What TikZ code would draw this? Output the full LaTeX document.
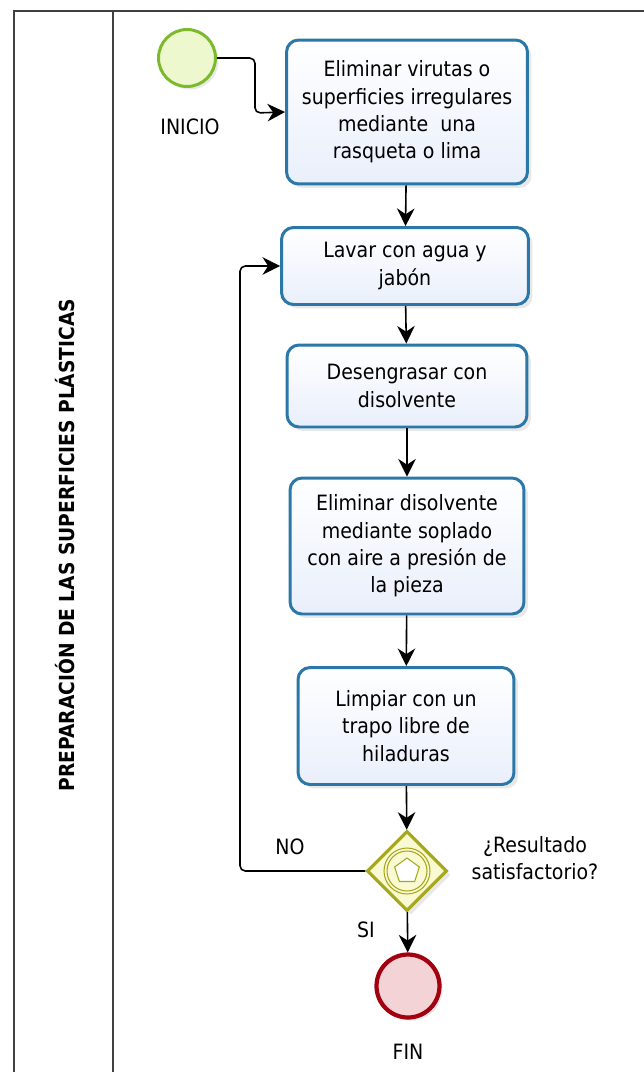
\documentclass[tikz,border=0pt]{standalone}
\usepackage{fontspec}
\setmainfont{DejaVu Sans Condensed}
\usetikzlibrary{positioning,arrows.meta,shapes.geometric,shadows}

\definecolor{taskline}{HTML}{2A77A8}
\definecolor{taskfill}{HTML}{E9EFFB}
\definecolor{startline}{HTML}{7CBA2C}
\definecolor{startfill}{HTML}{EEF8CF}
\definecolor{gateline}{HTML}{A8A81E}
\definecolor{gatefill}{HTML}{FAFAD2}
\definecolor{endline}{HTML}{A30010}
\definecolor{endfill}{HTML}{F4D3D7}

\begin{document}
\begin{tikzpicture}[
  x=0.02cm, y=-0.02cm,
  font=\fontsize{12}{15.6}\selectfont,
  task/.style={rectangle, rounded corners=0.24cm, draw=taskline, line width=1.7pt,
    top color=white, bottom color=taskfill, align=center, inner sep=2pt,
    drop shadow={opacity=0.18, shadow xshift=0.08cm, shadow yshift=-0.08cm}},
  event/.style={circle, line width=1.7pt, inner sep=0pt,
    drop shadow={opacity=0.18, shadow xshift=0.06cm, shadow yshift=-0.06cm}},
  startevent/.style={event, draw=startline, fill=startfill, minimum size=1.14cm},
  endevent/.style={event, draw=endline, fill=endfill, line width=2.4pt, minimum size=1.26cm},
  gateway/.style={diamond, draw=gateline, fill=gatefill, line width=1.8pt, aspect=1,
    minimum size=1.6cm, inner sep=0pt,
    drop shadow={opacity=0.18, shadow xshift=0.08cm, shadow yshift=-0.08cm}},
  flow/.style={draw, line width=0.9pt, -{Stealth[length=10pt, width=10pt]}},
  lane/.style={draw=black!75, line width=1.3pt}
]

\useasboundingbox (0,0) rectangle (644,1072);

% Pool and lane
\draw[lane] (14,1072) -- (14,11) -- (644,11);
\draw[lane] (113,11) -- (113,1072);
\node[rotate=90, font=\fontsize{11.8}{12}\selectfont\bfseries] (lanename) at (65,545)
  {PREPARACIÓN DE LAS SUPERFICIES PLÁSTICAS};

% Events
\node[startevent] (inicio) at (187,58) {};
\node (inicio label) at (190,127) {INICIO};
\node[endevent] (fin) at (408,986) {};
\node (fin label) at (408,1052) {FIN};

% Tasks
\node[task, minimum width=4.82cm, minimum height=2.88cm] (virutas) at (407,112)
  {Eliminar virutas o\\superficies irregulares\\mediante\ \ una\\rasqueta o lima};
\node[task, minimum width=4.94cm, minimum height=1.54cm] (lavar) at (405,266)
  {Lavar con agua y\\jabón};
\node[task, minimum width=4.8cm, minimum height=1.64cm] (desengrasar) at (407,386)
  {Desengrasar con\\disolvente};
\node[task, minimum width=4.68cm, minimum height=2.72cm] (soplado) at (407,546)
  {Eliminar disolvente\\mediante soplado\\con aire a presión de\\la pieza};
\node[task, minimum width=4.32cm, minimum height=2.34cm] (limpiar) at (406,726)
  {Limpiar con un\\trapo libre de\\hiladuras};

% Gateway
\node[gateway] (decision) at (407,871) {};
\draw[gateline, line width=0.6pt] (decision.center) circle (0.46cm) circle (0.40cm);
\node[regular polygon, regular polygon sides=5, draw=gateline, line width=0.6pt,
  fill=white, minimum size=0.52cm, inner sep=0pt] (pentagon) at (decision.center) {};
\node[align=center] (question) at (535,858) {¿Resultado\\satisfactorio?};

% Flows
\draw[flow, rounded corners=3pt] (inicio.east) -- (255,58) -- (255,113) -- (virutas.west);
\draw[flow] (virutas) -- (lavar);
\draw[flow] (lavar) -- (desengrasar);
\draw[flow] (desengrasar) -- (soplado);
\draw[flow] (soplado) -- (limpiar);
\draw[flow] (limpiar) -- (decision);
\draw[flow] (decision) -- (fin);
\draw[flow, rounded corners=3pt] (decision.west) -- (240,871) -- (240,266) -- (lavar.west);

% Labels
\node (no label) at (290,847) {NO};
\node (si label) at (366,930) {SI};

\end{tikzpicture}
\end{document}
